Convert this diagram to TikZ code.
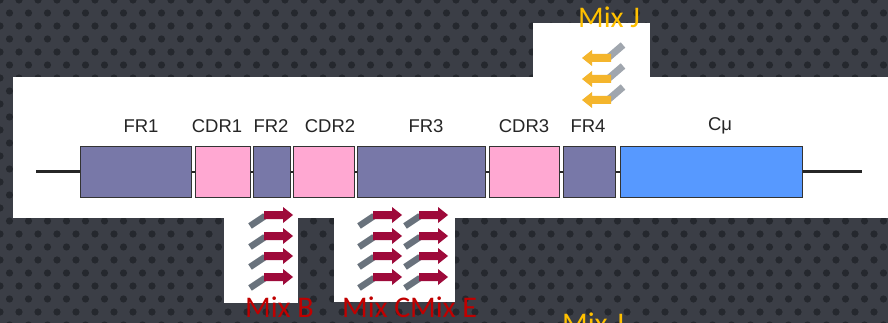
\documentclass[tikz,border=0pt]{standalone}
\usepackage{fontspec}
\setmainfont{Carlito}
\newfontfamily\genefont{Liberation Sans}
\definecolor{bgdark}{HTML}{3B3E46}
\definecolor{dotc}{HTML}{25282E}
\definecolor{frcol}{HTML}{7878A8}
\definecolor{cdrcol}{HTML}{FFA8D2}
\definecolor{cmucol}{HTML}{5799FF}
\definecolor{arrred}{HTML}{9E0A3A}
\definecolor{tailgray}{HTML}{69727C}
\definecolor{tailgraylt}{HTML}{A0A6AE}
\definecolor{arryel}{HTML}{F4B52C}
\definecolor{mixred}{HTML}{C00000}
\definecolor{mixorange}{HTML}{FFC000}
\newcommand\redarr[2]{%
  \draw[tailgray, line width=6.5pt] (#1-14,#2+11) -- (#1+1,#2+1);
  \fill[arrred] (#1,#2-4) -- (#1+19,#2-4) -- (#1+19,#2-8) -- (#1+29,#2) -- (#1+19,#2+8) -- (#1+19,#2+4) -- (#1,#2+4) -- cycle;}
\newcommand\yelarr[2]{%
  \draw[tailgraylt, line width=7pt] (#1+27,#2-1) -- (#1+41,#2-13);
  \fill[arryel] (#1,#2) -- (#1+10,#2-8) -- (#1+10,#2-4) -- (#1+29,#2-4) -- (#1+29,#2+4) -- (#1+10,#2+4) -- (#1+10,#2+8) -- cycle;}
\begin{document}
\begin{tikzpicture}[x=1pt,y=-1pt,
  seg/.style={draw=black!80, line width=1.3pt, minimum height=51pt, inner sep=0pt, anchor=north west},
  genelab/.style={font=\genefont\fontsize{18.5}{20}\selectfont, text=black!85, inner sep=0pt},
  mixlab/.style={font=\fontsize{30}{36}\selectfont, inner sep=0pt, anchor=base west},
  geneline/.style={draw=black!85, line width=2.6pt}]
\useasboundingbox (0,0) rectangle (888,323);
\begin{scope}
\clip (0,0) rectangle (888,323);
\fill[bgdark] (0,0) rectangle (888,323);
\foreach \r in {0,...,25} {
  \foreach \c in {0,...,47} {
    \pgfmathsetmacro\xx{\c*19 + mod(\r,2)*9.5}
    \fill[dotc] (\xx,\r*13) circle (3.6pt);
  }
}
% white panels
\fill[white] (13,77) rectangle (888,218);
\fill[white] (224,200) rectangle (298,303);
\fill[white] (334,200) rectangle (455,302);
\fill[white] (533,23) rectangle (650,90);
% gene segments
\coordinate (ls) at (36,171.5);
\coordinate (le) at (862,171.5);
\node[seg, fill=frcol, minimum width=111pt] (fr1) at (80,146) {};
\node[seg, fill=cdrcol, minimum width=55pt] (cdr1) at (195,146) {};
\node[seg, fill=frcol, minimum width=37pt] (fr2) at (253,146) {};
\node[seg, fill=cdrcol, minimum width=61pt] (cdr2) at (293,146) {};
\node[seg, fill=frcol, minimum width=128pt] (fr3) at (357,146) {};
\node[seg, fill=cdrcol, minimum width=70pt] (cdr3) at (489,146) {};
\node[seg, fill=frcol, minimum width=52pt] (fr4) at (563,146) {};
\node[seg, fill=cmucol, minimum width=182pt] (cmu) at (620,146) {};
\draw[geneline] (ls) -- (ls -| fr1.west);
\draw[geneline] (fr1.east) -- (cdr1.west);
\draw[geneline] (cdr1.east) -- (fr2.west);
\draw[geneline] (fr2.east) -- (cdr2.west);
\draw[geneline] (cdr2.east) -- (fr3.west);
\draw[geneline] (fr3.east) -- (cdr3.west);
\draw[geneline] (cdr3.east) -- (fr4.west);
\draw[geneline] (fr4.east) -- (cmu.west);
\draw[geneline] (le -| cmu.east) -- (le);
% labels
\node[genelab] (lfr1) at (141,126) {FR1};
\node[genelab] (lcdr1) at (217,126) {CDR1};
\node[genelab] (lfr2) at (271,126) {FR2};
\node[genelab] (lcdr2) at (330,126) {CDR2};
\node[genelab] (lfr3) at (426,126) {FR3};
\node[genelab] (lcdr3) at (524,126) {CDR3};
\node[genelab] (lfr4) at (588,126) {FR4};
\node[genelab] (lcmu) at (720,126) {Cμ};
% arrow icons
\foreach \yy in {215,236,256,277} {
  \redarr{264}{\yy}
  \redarr{373}{\yy}
  \redarr{419}{\yy}
}
\foreach \yy in {58,79,100} {
  \yelarr{582}{\yy}
}
% mix labels
\node[mixlab, text=mixorange] (mixj) at (578,28) {Mix J};
\node[mixlab, text=mixred] (mixb) at (245,317) {Mix B};
\node[mixlab, text=mixred] (mixc) at (342,317) {Mix C};
\node[mixlab, text=mixred] (mixe) at (410,317) {Mix E};
\node[mixlab, text=mixorange] (mixj2) at (562,333) {Mix J};
\end{scope}
\end{tikzpicture}
\end{document}
